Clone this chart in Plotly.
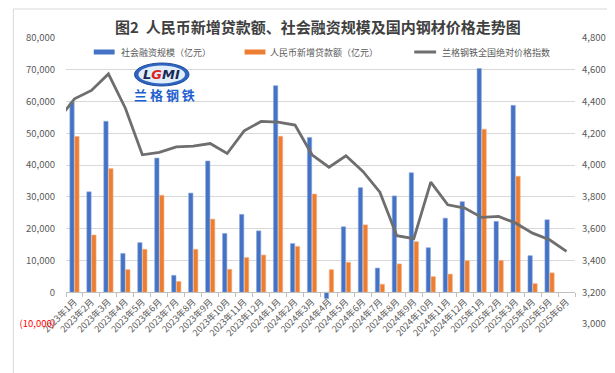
import plotly.graph_objects as go

categories = ["2023年1月", "2023年2月", "2023年3月", "2023年4月", "2023年5月", "2023年6月",
              "2023年7月", "2023年8月", "2023年9月", "2023年10月", "2023年11月", "2023年12月",
              "2024年1月", "2024年2月", "2024年3月", "2024年4月", "2024年5月", "2024年6月",
              "2024年7月", "2024年8月", "2024年9月", "2024年10月", "2024年11月", "2024年12月",
              "2025年1月", "2025年2月", "2025年3月", "2025年4月", "2025年5月", "2025年6月"]

tsf = [59800, 31600, 53800, 12200, 15600, 42200, 5300, 31200, 41300, 18500, 24500, 19300,
       65000, 15300, 48700, -2000, 20600, 32900, 7600, 30300, 37600, 14000, 23300, 28500,
       70400, 22300, 58800, 11500, 22800, None]

loans = [49000, 18000, 38900, 7100, 13500, 30500, 3400, 13500, 23000, 7200, 10900, 11700,
         49100, 14400, 30900, 7100, 9400, 21200, 2500, 8900, 15900, 4900, 5700, 9900,
         51300, 10000, 36500, 2700, 6100, None]

# previous month (2022年12月) index value, only its segment edge is visible
prior_index = 4279
price_index = [4417, 4470, 4574, 4358, 4065, 4080, 4115, 4119, 4136, 4073, 4216, 4275,
               4270, 4252, 4065, 3987, 4059, 3960, 3830, 3556, 3537, 3893, 3750, 3730,
               3671, 3677, 3635, 3572, 3530, 3457]

left_ticks = [-10000, 0, 10000, 20000, 30000, 40000, 50000, 60000, 70000, 80000]
right_ticks = [3000, 3200, 3400, 3600, 3800, 4000, 4200, 4400, 4600, 4800]

name_tsf = "社会融资规模（亿元）"
name_loans = "人民币新增贷款额（亿元）"
name_index = "兰格钢铁全国绝对价格指数"
title_text = "图2  人民币新增贷款额、社会融资规模及国内钢材价格走势图"

BLUE = "#4472C4"
ORANGE = "#ED7D31"
GRAY_LINE = "#6E6E6E"
GRID = "#D9D9D9"
TXT = "#595959"
FONT = "Noto Sans CJK SC"

idx = list(range(len(categories)))

fig = go.Figure()
fig.add_trace(go.Bar(x=idx, y=tsf, name=name_tsf, marker=dict(color=BLUE, line=dict(color="#8FAADC", width=0.6)),
                     yaxis="y", showlegend=False))
fig.add_trace(go.Bar(x=idx, y=loans, name=name_loans, marker=dict(color=ORANGE, line=dict(color="#F4B183", width=0.6)),
                     yaxis="y", showlegend=False))
fig.add_trace(go.Scatter(x=[-1] + idx, y=[prior_index] + price_index, name=name_index, mode="lines",
                         line=dict(color=GRAY_LINE, width=2.8), yaxis="y2", showlegend=False))

def fmt(v):
    s = f"{abs(v):,}"
    if v < 0:
        return "<span style='color:#FF0000'>(" + s + ")</span>"
    return s

W, H = 615, 373
L, R, T, B = 54, 48, 30, 57
pw = W - L - R
ph = H - T - B

def px(xp):
    return (xp - L) / pw

def py(yp):
    return (H - B - yp) / ph

zero_pos = (0 - left_ticks[0]) / (left_ticks[-1] - left_ticks[0])

fig.update_layout(
    width=W, height=H,
    margin=dict(l=L, r=R, t=T, b=B),
    paper_bgcolor="white", plot_bgcolor="white",
    font=dict(family=FONT, color=TXT, size=9),
    barmode="group", bargap=0.42, bargroupgap=0.12,
    xaxis=dict(range=[-0.5, len(categories) - 0.5], tickvals=idx, ticktext=categories,
               tickangle=-45, tickfont=dict(size=9, color=TXT, family=FONT),
               anchor="free", position=zero_pos, showline=True, linecolor="#BFBFBF", linewidth=1,
               ticks="", showgrid=False, zeroline=False,
               minor=dict(tickvals=[i - 0.5 for i in range(len(categories) + 1)], ticks="outside",
                          ticklen=4, tickcolor="#BFBFBF", showgrid=False)),
    yaxis=dict(range=[left_ticks[0], left_ticks[-1]], tickvals=left_ticks,
               ticktext=[fmt(v) for v in left_ticks], showgrid=True, gridcolor=GRID, gridwidth=1,
               zeroline=False, showline=False, ticks="", tickfont=dict(size=9.5, color=TXT, family=FONT),
               ticklabelstandoff=10),
    yaxis2=dict(range=[right_ticks[0], right_ticks[-1]], tickvals=right_ticks,
                ticktext=[f"{v:,}" for v in right_ticks], overlaying="y", side="right",
                showgrid=False, zeroline=False, showline=False, ticks="",
                tickfont=dict(size=9.5, color=TXT, family=FONT), ticklabelstandoff=6),
)

shapes = []
annotations = []

# title
annotations.append(dict(text="<b>" + title_text + "</b>", xref="paper", yref="paper",
                        x=px(307.5), y=py(18), xanchor="center", yanchor="middle", showarrow=False,
                        font=dict(size=15, color="#404040", family=FONT)))

# legend (manual)
legend_items = [(82, 103, 107, name_tsf, BLUE, "rect"),
                (234, 255, 258, name_loans, ORANGE, "rect"),
                (405, 427, 431, name_index, GRAY_LINE, "line")]
ly = 44
for x0, x1, xt, label, color, kind in legend_items:
    if kind == "rect":
        shapes.append(dict(type="rect", xref="paper", yref="paper", x0=px(x0), x1=px(x1),
                           y0=py(ly + 2.5), y1=py(ly - 2.5), fillcolor=color, line=dict(width=0)))
    else:
        shapes.append(dict(type="line", xref="paper", yref="paper", x0=px(x0), x1=px(x1),
                           y0=py(ly), y1=py(ly), line=dict(color=color, width=3)))
    annotations.append(dict(text=label, xref="paper", yref="paper", x=px(xt), y=py(ly),
                            xanchor="left", yanchor="middle", showarrow=False,
                            font=dict(size=9, color=TXT, family=FONT)))

# logo
shapes.append(dict(type="circle", xref="paper", yref="paper", x0=px(123), x1=px(178),
                   y0=py(78), y1=py(55), fillcolor="#2F64C0", line=dict(color="#1F4E9C", width=1)))
shapes.append(dict(type="circle", xref="paper", yref="paper", x0=px(127), x1=px(174),
                   y0=py(75.5), y1=py(57.5), fillcolor="#E3EEFB", line=dict(width=0)))
annotations.append(dict(text="<b><i>L<span style='color:#D22'>G</span>MI</i></b>", xref="paper", yref="paper",
                        x=px(150.5), y=py(66.5), xanchor="center", yanchor="middle", showarrow=False,
                        font=dict(size=13, color="#1A2A55", family="DejaVu Sans")))
annotations.append(dict(text="<b>兰 格 钢 铁</b>", xref="paper", yref="paper",
                        x=px(153), y=py(86.5), xanchor="center", yanchor="middle", showarrow=False,
                        font=dict(size=13, color="#1F5FD0", family=FONT)))

# outer border
shapes.append(dict(type="rect", xref="paper", yref="paper", x0=px(1), x1=px(613), y0=py(371), y1=py(1),
                   line=dict(color="#D9D9D9", width=1), fillcolor="rgba(0,0,0,0)", layer="below"))

fig.update_layout(shapes=shapes, annotations=annotations)

fig.write_html("out.html")
